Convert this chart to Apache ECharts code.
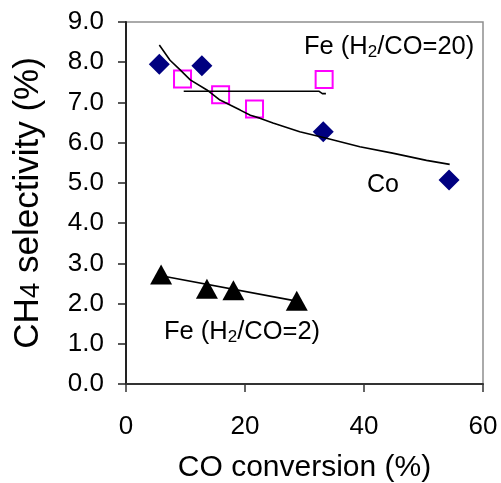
<!DOCTYPE html>
<html>
<head>
<meta charset="utf-8">
<script src="https://cdn.jsdelivr.net/npm/echarts@6/dist/echarts.min.js"></script>
<style>
  html, body { margin: 0; padding: 0; background: #fff; }
  #chart { width: 501px; height: 483px; }
</style>
</head>
<body>
<div id="chart"></div>
<script>
// Measured points: CO conversion (%) vs CH4 selectivity (%)
const coX = [5.6, 12.75, 33.15, 54.3];
const coY = [7.95, 7.91, 6.27, 5.07];
const fe20X = [9.5, 15.9, 21.6, 33.3];
const fe20Y = [7.58, 7.19, 6.84, 7.57];
const fe2X = [5.9, 13.6, 18.05, 28.7];
const fe2Y = [2.72, 2.37, 2.33, 2.07];

// Trend lines
const coFitX = [5.6, 7.4, 9.1, 10.8, 13.6, 15.8, 19.2, 20.9, 22.5, 24.7, 29.2, 33.7, 39.3, 44.8, 50.5, 54.4];
const coFitY = [8.43, 8.05, 7.81, 7.56, 7.31, 7.06, 6.81, 6.68, 6.61, 6.49, 6.27, 6.11, 5.90, 5.74, 5.56, 5.46];
const fe20FitX = [9.7, 32.4, 33.0, 33.6];
const fe20FitY = [7.28, 7.28, 7.22, 7.22];
const fe2FitX = [5.9, 28.7];
const fe2FitY = [2.69, 2.06];

// Axis ticks
const xTicks = [0, 20, 40, 60];
const yTicks = [0, 1, 2, 3, 4, 5, 6, 7, 8, 9];

const pair = (xs, ys) => xs.map((x, i) => [x, ys[i]]);
const FONT = '"Liberation Sans", Arial, sans-serif';

const chart = echarts.init(document.getElementById('chart'), null, { renderer: 'canvas' });

const fitLine = (xs, ys) => ({
  type: 'line',
  data: pair(xs, ys),
  showSymbol: false,
  symbol: 'none',
  lineStyle: { color: '#000', width: 1.6 },
  z: 5,
  silent: true,
  animation: false
});

chart.setOption({
  animation: false,
  grid: {
    left: 126, right: 18, top: 22, bottom: 99,
    containLabel: false,
    outerBoundsMode: 'none',
    show: true, borderColor: '#8e8e8e', borderWidth: 1.5
  },
  xAxis: {
    type: 'value',
    min: xTicks[0], max: xTicks[xTicks.length - 1], interval: 20,
    name: 'CO conversion (%)',
    nameLocation: 'middle',
    nameGap: 69,
    nameTextStyle: { fontFamily: FONT, fontSize: 30, color: '#000' },
    axisLine: { show: true, lineStyle: { color: '#333', width: 2 } },
    axisTick: { show: true, inside: false, length: 8, lineStyle: { color: '#333', width: 1.5 } },
    axisLabel: { fontFamily: FONT, fontSize: 26, color: '#000', margin: 30 },
    splitLine: { show: false }
  },
  yAxis: {
    type: 'value',
    min: yTicks[0], max: yTicks[yTicks.length - 1], interval: 1,
    name: '{m|CH}{s|4}{m| selectivity (%)}',
    nameLocation: 'middle',
    nameRotate: 90,
    nameGap: 80,
    nameTextStyle: {
      fontFamily: FONT, fontSize: 35, color: '#000',
      rich: {
        m: { fontFamily: FONT, fontSize: 35, color: '#000' },
        s: { fontFamily: FONT, fontSize: 28, color: '#000', padding: [5, 0, 0, 0] }
      }
    },
    axisLine: { show: true, lineStyle: { color: '#222', width: 2 } },
    axisTick: { show: true, inside: false, length: 8, lineStyle: { color: '#222', width: 1.5 } },
    axisLabel: {
      fontFamily: FONT, fontSize: 26, color: '#000', margin: 22,
      formatter: v => v.toFixed(1)
    },
    splitLine: { show: false }
  },
  series: [
    {
      name: 'Co',
      type: 'scatter',
      data: pair(coX, coY),
      symbol: 'diamond',
      symbolSize: 21,
      itemStyle: { color: '#000080', opacity: 1 },
      z: 3
    },
    {
      name: 'Fe (H2/CO=20)',
      type: 'scatter',
      data: pair(fe20X, fe20Y),
      symbol: 'rect',
      symbolSize: 17,
      itemStyle: { color: 'rgba(255,255,255,0)', borderColor: '#ff00ff', borderWidth: 2, opacity: 1 },
      z: 3
    },
    {
      name: 'Fe (H2/CO=2)',
      type: 'scatter',
      data: pair(fe2X, fe2Y),
      symbol: 'triangle',
      symbolSize: [22, 20],
      itemStyle: { color: '#000', opacity: 1 },
      z: 3
    },
    fitLine(coFitX, coFitY),
    fitLine(fe20FitX, fe20FitY),
    fitLine(fe2FitX, fe2FitY)
  ],
  graphic: [
    {
      type: 'text', left: 304, top: 34, z: 10,
      style: {
        text: '{m|Fe (H}{s|2}{m|/CO=20)}',
        rich: {
          m: { fontFamily: FONT, fontSize: 25.5, fill: '#000' },
          s: { fontFamily: FONT, fontSize: 17, fill: '#000', padding: [10, 0, 0, 0] }
        }
      }
    },
    {
      type: 'text', left: 367, top: 173, z: 10,
      style: { text: 'Co', fontFamily: FONT, fontSize: 25, fill: '#000' }
    },
    {
      type: 'text', left: 164, top: 319, z: 10,
      style: {
        text: '{m|Fe (H}{s|2}{m|/CO=2)}',
        rich: {
          m: { fontFamily: FONT, fontSize: 25.5, fill: '#000' },
          s: { fontFamily: FONT, fontSize: 17, fill: '#000', padding: [10, 0, 0, 0] }
        }
      }
    }
  ]
});
</script>
</body>
</html>
